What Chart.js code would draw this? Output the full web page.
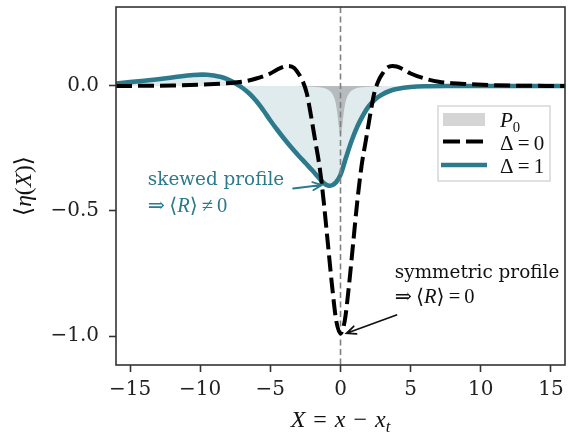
<!DOCTYPE html>
<html>
<head>
<meta charset="utf-8">
<script src="https://cdn.jsdelivr.net/npm/chart.js@4.4.1/dist/chart.umd.min.js"></script>
<style>
  html, body { margin: 0; padding: 0; background: #fff; }
  #wrap { width: 568px; height: 432px; }
</style>
</head>
<body>
<div id="wrap"><canvas id="chart" width="568" height="432"></canvas></div>
<script>
// =====================
// Data
// =====================
const xDelta1 = [-16, -14, -12, -10.5, -9.5, -8.5, -8, -7.5, -7, -6.5, -6, -5.5, -5, -4.5, -4, -3.5, -3, -2.5, -2, -1.5, -1.2, -0.9, -0.6, -0.3, 0, 0.4, 0.8, 1.2, 1.6, 2, 2.5, 3, 3.5, 4, 5, 6, 8, 10, 13, 16];
const yDelta1 = [0.01, 0.021, 0.034, 0.044, 0.045, 0.036, 0.026, 0.011, -0.007, -0.03, -0.06, -0.097, -0.138, -0.176, -0.212, -0.246, -0.278, -0.308, -0.338, -0.37, -0.388, -0.398, -0.397, -0.384, -0.355, -0.285, -0.218, -0.162, -0.118, -0.082, -0.052, -0.033, -0.02, -0.012, -0.004, -0.001, 0, 0, 0, 0];

const xDelta0 = [-16, -12, -9, -7, -6, -5, -4.5, -4, -3.7, -3.3, -3, -2.7, -2.4, -2.1, -1.8, -1.5, -1.2, -0.9, -0.6, -0.3, 0, 0.3, 0.6, 0.9, 1.2, 1.5, 1.8, 2.1, 2.4, 2.7, 3, 3.3, 3.7, 4, 4.5, 5, 6, 7, 9, 12, 16];
const yDelta0 = [0, 0.002, 0.008, 0.017, 0.03, 0.05, 0.066, 0.078, 0.08, 0.072, 0.05, 0.02, -0.03, -0.12, -0.22, -0.32, -0.46, -0.63, -0.8, -0.94, -0.99, -0.94, -0.8, -0.63, -0.46, -0.32, -0.22, -0.12, -0.03, 0.02, 0.05, 0.072, 0.08, 0.078, 0.066, 0.05, 0.03, 0.017, 0.008, 0.002, 0];

const xP0 = [-3, -2, -1.5, -1, -0.7, -0.5, -0.35, -0.25, -0.15, -0.07, 0, 0.07, 0.15, 0.25, 0.35, 0.5, 0.7, 1, 1.5, 2, 3];
const yP0 = [-0.0014, -0.003, -0.0054, -0.0118, -0.0226, -0.04, -0.067, -0.1, -0.147, -0.185, -0.2, -0.185, -0.147, -0.1, -0.067, -0.04, -0.0226, -0.0118, -0.0054, -0.003, -0.0014];

const xTicks = [-15, -10, -5, 0, 5, 10, 15];
const yTicks = [-1.0, -0.5, 0.0];
const markerX = 0; // vertical reference line

const teal = "#2c7a8c";
const dark = "#333";
const textFont = "'DejaVu Serif', serif";
const mathFont = "'Liberation Serif', 'DejaVu Serif', serif";

const pts = (xs, ys) => xs.map((x, i) => ({ x: x, y: ys[i] }));
const minus = s => s.replace("-", "\u2212");

// =====================
// Rich (math-ish) text helper
// =====================
function partFont(p, size) {
  const sz = p.sub ? size * 0.7 : size;
  return (p.it ? "italic " : "") + sz + "px " + (p.m ? mathFont : textFont);
}
function richWidth(ctx, parts, size) {
  let w = 0;
  parts.forEach(p => { ctx.font = partFont(p, size); w += ctx.measureText(p.t).width; });
  return w;
}
function drawRich(ctx, parts, x, y, size, color, align) {
  let cx = x;
  if (align === "center") cx = x - richWidth(ctx, parts, size) / 2;
  ctx.fillStyle = color;
  ctx.textBaseline = "alphabetic";
  ctx.textAlign = "left";
  parts.forEach(p => {
    ctx.font = partFont(p, size);
    ctx.fillText(p.t, cx, y + (p.sub ? size * 0.22 : 0));
    cx += ctx.measureText(p.t).width;
  });
}

function arrow(ctx, x0, y0, x1, y1, color, lw) {
  const a = Math.atan2(y1 - y0, x1 - x0);
  const L = 10, s = 0.42;
  ctx.save();
  ctx.strokeStyle = color;
  ctx.lineWidth = lw;
  ctx.lineCap = "round";
  ctx.beginPath();
  ctx.moveTo(x0, y0);
  ctx.lineTo(x1, y1);
  ctx.moveTo(x1 - L * Math.cos(a - s), y1 - L * Math.sin(a - s));
  ctx.lineTo(x1, y1);
  ctx.lineTo(x1 - L * Math.cos(a + s), y1 - L * Math.sin(a + s));
  ctx.stroke();
  ctx.restore();
}

// annotations: text anchor and arrow ends in data coordinates
const sp = "\u2009";
const notes = [
  {
    at: [-13.73, -0.396], gap: 27, color: teal,
    lines: [
      [{ t: "skewed profile" }],
      [{ t: "\u21D2" + sp, m: 1 }, { t: "\u27E8", m: 1 }, { t: "R", m: 1, it: 1 }, { t: "\u27E9" + sp, m: 1 }, { t: "\u2260" + sp + "0", m: 1 }]
    ],
    tail: [-3.38, -0.41], head: [-1.33, -0.396]
  },
  {
    at: [3.87, -0.768], gap: 25, color: "#111",
    lines: [
      [{ t: "symmetric profile" }],
      [{ t: "\u21D2" + sp, m: 1 }, { t: "\u27E8", m: 1 }, { t: "R", m: 1, it: 1 }, { t: "\u27E9" + sp, m: 1 }, { t: "=" + sp + "0", m: 1 }]
    ],
    tail: [3.99, -0.916], head: [0.43, -0.989]
  }
];

// =====================
// Decorations plugin
// =====================
const decor = {
  id: "decor",
  beforeDatasetDraw(chart, args) {
    if (args.index !== 0) return;
    const ctx = chart.ctx, a = chart.chartArea;
    const px = chart.scales.x.getPixelForValue(markerX);
    ctx.save();
    ctx.strokeStyle = "#808080";
    ctx.lineWidth = 1.6;
    ctx.setLineDash([6, 3.5]);
    ctx.beginPath();
    ctx.moveTo(px, a.top);
    ctx.lineTo(px, a.bottom);
    ctx.stroke();
    ctx.restore();
  },
  afterDraw(chart) {
    const ctx = chart.ctx, a = chart.chartArea;
    const sx = chart.scales.x, sy = chart.scales.y;

    // spines
    ctx.save();
    ctx.strokeStyle = dark;
    ctx.lineWidth = 1.6;
    ctx.strokeRect(a.left, a.top, a.right - a.left, a.bottom - a.top);
    ctx.restore();

    // annotations
    notes.forEach(n => {
      const tx = sx.getPixelForValue(n.at[0]), ty = sy.getPixelForValue(n.at[1]);
      drawRich(ctx, n.lines[0], tx, ty, 18.4, n.color, "left");
      drawRich(ctx, n.lines[1], tx, ty + n.gap, 20.5, n.color, "left");
      arrow(ctx, sx.getPixelForValue(n.tail[0]), sy.getPixelForValue(n.tail[1]),
        sx.getPixelForValue(n.head[0]), sy.getPixelForValue(n.head[1]), n.color, 1.8);
    });

    // legend
    const lx = 438, ly = 106, lw = 112, lh = 75;
    ctx.save();
    ctx.fillStyle = "rgba(255,255,255,0.85)";
    ctx.fillRect(lx, ly, lw, lh);
    ctx.strokeStyle = "#d9d9d9";
    ctx.lineWidth = 1.6;
    ctx.strokeRect(lx, ly, lw, lh);
    ctx.fillStyle = "rgba(150,150,150,0.4)";
    ctx.fillRect(443, 113, 42, 13);
    ctx.lineWidth = 4;
    ctx.strokeStyle = "#000";
    ctx.setLineDash([17, 6]);
    ctx.beginPath(); ctx.moveTo(443, 141.5); ctx.lineTo(485, 141.5); ctx.stroke();
    ctx.setLineDash([]);
    ctx.lineWidth = 4.6;
    ctx.strokeStyle = teal;
    ctx.beginPath(); ctx.moveTo(441, 165); ctx.lineTo(487, 165); ctx.stroke();
    ctx.restore();
    drawRich(ctx, [{ t: "P", m: 1, it: 1 }, { t: "0", m: 1, sub: 1 }], 500, 127, 21, "#111", "left");
    drawRich(ctx, [{ t: "\u0394\u2009=\u20090", m: 1 }], 500, 150, 21, "#111", "left");
    drawRich(ctx, [{ t: "\u0394\u2009=\u20091", m: 1 }], 500, 173, 21, "#111", "left");

    // axis titles
    const s3 = "\u2004";
    drawRich(ctx, [{ t: "X", m: 1, it: 1 }, { t: s3 + "=" + s3, m: 1 }, { t: "x", m: 1, it: 1 }, { t: s3 + "\u2212" + s3, m: 1 },
      { t: "x", m: 1, it: 1 }, { t: "t", m: 1, it: 1, sub: 1 }], (a.left + a.right) / 2, 427, 24, "#111", "center");
    ctx.save();
    ctx.translate(31, (a.top + a.bottom) / 2);
    ctx.rotate(-Math.PI / 2);
    drawRich(ctx, [{ t: "\u27E8", m: 1 }, { t: "\u03B7", m: 1, it: 1 }, { t: "(", m: 1 }, { t: "X", m: 1, it: 1 },
      { t: ")", m: 1 }, { t: "\u27E9", m: 1 }], 0, 0, 23.5, "#111", "center");
    ctx.restore();
  }
};

// =====================
// Chart
// =====================
const tickFont = { family: "DejaVu Serif", size: 20 };

new Chart(document.getElementById("chart"), {
  type: "line",
  data: {
    datasets: [
      {
        label: "\u0394=0",
        data: pts(xDelta0, yDelta0),
        borderColor: "#000",
        borderWidth: 4,
        borderDash: [16, 6],
        borderCapStyle: "butt",
        fill: false,
        cubicInterpolationMode: "monotone",
        order: 0
      },
      {
        label: "P0",
        data: pts(xP0, yP0),
        borderWidth: 0,
        borderColor: "rgba(0,0,0,0)",
        backgroundColor: "rgba(130,130,130,0.45)",
        fill: "origin",
        cubicInterpolationMode: "monotone",
        order: 1
      },
      {
        label: "\u0394=1",
        data: pts(xDelta1, yDelta1),
        borderColor: teal,
        borderWidth: 4.6,
        backgroundColor: "rgba(44,122,140,0.15)",
        fill: "origin",
        tension: 0.35,
        order: 2
      }
    ]
  },
  options: {
    responsive: false,
    animation: false,
    devicePixelRatio: 1,
    layout: { padding: { top: 7, right: 3, left: 0, bottom: 0 } },
    elements: { point: { radius: 0 } },
    plugins: { legend: { display: false }, tooltip: { enabled: false } },
    scales: {
      x: {
        type: "linear",
        min: -16,
        max: 16,
        afterBuildTicks: s => { s.ticks = xTicks.map(v => ({ value: v })); },
        afterFit: s => { s.height = 67; s.paddingLeft = 0; s.paddingRight = 0; },
        border: { display: false },
        grid: { drawOnChartArea: false, tickLength: 7, tickColor: dark, tickWidth: 1.6 },
        ticks: { font: tickFont, color: "#222", padding: 6, maxRotation: 0, autoSkip: false,
          callback: v => minus(String(v)) }
      },
      y: {
        type: "linear",
        min: -1.116,
        max: 0.316,
        afterBuildTicks: s => { s.ticks = yTicks.map(v => ({ value: v })); },
        afterFit: s => { s.width = 116; s.paddingTop = 0; s.paddingBottom = 0; },
        border: { display: false },
        grid: { drawOnChartArea: false, tickLength: 7, tickColor: dark, tickWidth: 1.6 },
        ticks: { font: tickFont, color: "#222", padding: 10, autoSkip: false,
          callback: v => minus(v.toFixed(1)) }
      }
    }
  },
  plugins: [decor]
});
</script>
</body>
</html>
